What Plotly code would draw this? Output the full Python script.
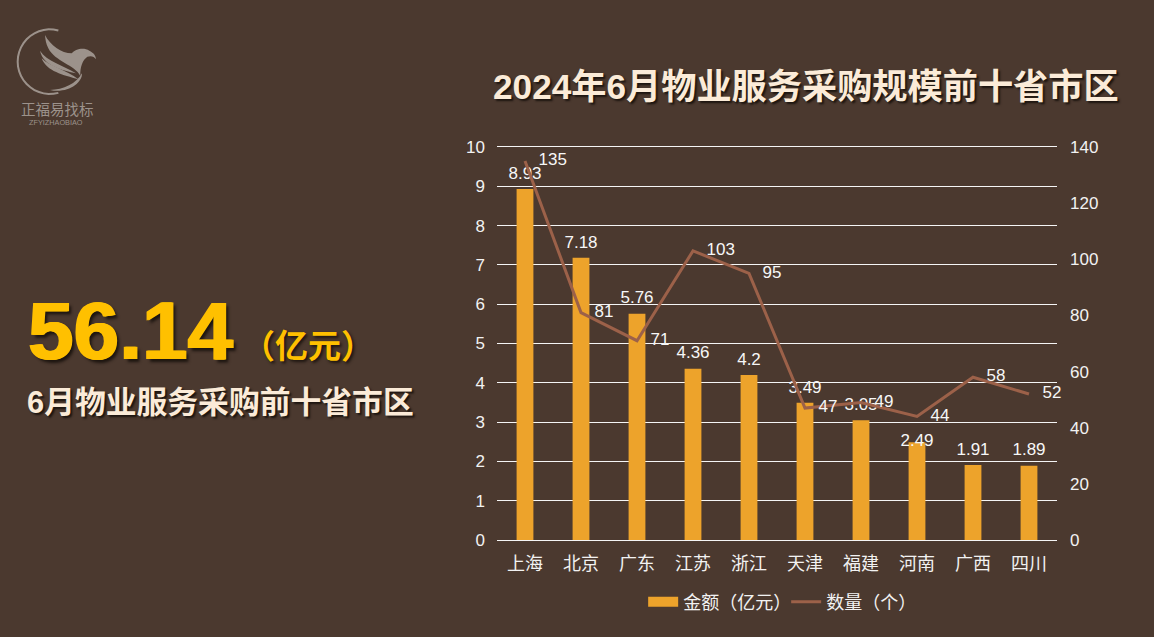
import math
import plotly.graph_objects as go

categories = ["上海", "北京", "广东", "江苏", "浙江", "天津", "福建", "河南", "广西", "四川"]
amount = [8.93, 7.18, 5.76, 4.36, 4.2, 3.49, 3.05, 2.49, 1.91, 1.89]
count = [135, 81, 71, 103, 95, 47, 49, 44, 58, 52]
amount_label_positions = ["top center"] * 7 + ["middle center"] + ["top center"] * 2
amount_name = "金额（亿元）"
count_name = "数量（个）"
title_text = "2024年6月物业服务采购规模前十省市区"
total_text = "56.14"
total_unit = "（亿元）"
sub_text = "6月物业服务采购前十省市区"

BG = "#4B392F"
FONT = "'Liberation Sans', 'Noto Sans CJK SC', sans-serif"
W, H = 1154, 637
L, R, T, B = 497, 1057, 147, 540
BAR = "#EDA32B"
LINE = "#9C6149"


def px(x):
    return (x - L) / (R - L)


def py(y):
    return (B - y) / (B - T)


def zoom_pt(zx, zy):
    return px(zx / 3), py(20 + zy / 3)


def logo_path(segments):
    out = []
    for cmd, pts in segments:
        coords = " ".join("%.5f,%.5f" % zoom_pt(*p) for p in pts)
        out.append(cmd + coords)
    return " ".join(out) + " Z"


def ring_path(cx, cy, r1, r2, a0, a1, n=24):
    pts_outer = [(cx + r1 * math.cos(math.radians(a0 + (a1 - a0) * i / n)),
                  cy + r1 * math.sin(math.radians(a0 + (a1 - a0) * i / n))) for i in range(n + 1)]
    pts_inner = [(cx + r2 * math.cos(math.radians(a0 + (a1 - a0) * i / n)),
                  cy + r2 * math.sin(math.radians(a0 + (a1 - a0) * i / n))) for i in range(n, -1, -1)]
    segs = [("M", [pts_outer[0]])] + [("L", [p]) for p in pts_outer[1:] + pts_inner]
    return logo_path(segs)


LOGO = "#9C928B"
logo_shapes = [
    ring_path(150, 125, 100, 94, -75, -285),
    logo_path([("M", [(135, 45)]), ("C", [(150, 75), (185, 100), (215, 100)]),
               ("C", [(225, 88), (250, 80), (268, 92)]), ("C", [(280, 98), (288, 106), (288, 118)]),
               ("C", [(282, 110), (275, 106), (262, 110)]),
               ("C", [(248, 120), (240, 140), (241, 168)]),
               ("C", [(225, 135), (165, 125), (145, 85)]), ("C", [(138, 72), (136, 58), (135, 45)])]),
    logo_path([("M", [(120, 92)]), ("C", [(140, 125), (190, 135), (228, 160)]),
               ("C", [(190, 150), (130, 140), (120, 92)])]),
    logo_path([("M", [(125, 115)]), ("C", [(150, 140), (200, 150), (235, 178)]),
               ("C", [(190, 165), (140, 155), (125, 115)])]),
    logo_path([("M", [(150, 210)]), ("C", [(190, 210), (230, 190), (246, 160)]),
               ("C", [(248, 190), (200, 222), (150, 210)])]),
]

fig = go.Figure()
# Legend swatch for the bars: a thick line gives the wide rectangle of the reference key.
fig.add_scatter(x=[None], y=[None], name=amount_name, mode="lines", legendgroup="amount",
                line=dict(color=BAR, width=13), hoverinfo="skip")
fig.add_bar(
    x=categories, y=amount, name=amount_name, yaxis="y", marker=dict(color=BAR, line=dict(width=0)),
    legendgroup="amount", showlegend=False, hoverinfo="x+y",
)
fig.add_scatter(
    x=categories, y=count, name=count_name, yaxis="y2", mode="lines",
    line=dict(color=LINE, width=3), cliponaxis=False,
)
fig.add_scatter(
    x=categories, y=amount, yaxis="y", mode="markers+text", showlegend=False, hoverinfo="skip",
    marker=dict(size=8, opacity=0),
    text=[str(v) for v in amount], textposition=amount_label_positions, cliponaxis=False,
    textfont=dict(size=17, color="#F7F7F7", family=FONT),
)
fig.add_scatter(
    x=categories, y=count, yaxis="y2", mode="markers+text", showlegend=False, hoverinfo="skip",
    marker=dict(size=20, opacity=0),
    text=[str(v) for v in count], textposition="middle right", cliponaxis=False,
    textfont=dict(size=17, color="#F7F7F7", family=FONT),
)

gold = "#FFC000"
annotations = [
    dict(text=title_text, x=px(806), y=py(87), font=dict(size=35.2, color="#FBEBD8", weight="bold", family=FONT,
         shadow="2px 2px 2px #1d1510")),
    dict(text=total_text, x=px(131), y=py(330), font=dict(size=82, color=gold, weight="bold", family=FONT,
         shadow="1px 0 0 %s, -1px 0 0 %s, 3px 3px 3px #1d1510" % (gold, gold))),
    dict(text=total_unit, x=px(308), y=py(346), font=dict(size=33, color=gold, weight="bold", family=FONT,
         shadow="2px 2px 3px #1d1510")),
    dict(text=sub_text, x=px(220), y=py(402), font=dict(size=30.8, color="#FBEBD8", weight="bold", family=FONT,
         shadow="2px 2px 2px #1d1510")),
    dict(text="正福易找标", x=px(57), y=py(110), font=dict(size=14.5, color=LOGO, family=FONT)),
    dict(text="ZFYIZHAOBIAO", x=px(56), y=py(123), font=dict(size=7.3, color=LOGO, family=FONT)),
]
for a in annotations:
    a.update(xref="paper", yref="paper", showarrow=False, xanchor="center", yanchor="middle")

fig.update_layout(
    width=W, height=H, margin=dict(l=L, r=W - R, t=T, b=H - B, pad=0, autoexpand=False),
    paper_bgcolor=BG, plot_bgcolor=BG, bargap=0.7, showlegend=True,
    font=dict(family=FONT, color="#F7F7F7", size=17),
    legend=dict(orientation="h", x=0.261, xanchor="left", y=-0.158, yanchor="middle",
                font=dict(size=18, color="#F2F2F2", family=FONT), bgcolor="rgba(0,0,0,0)",
                itemwidth=30, tracegroupgap=0, entrywidth=98, entrywidthmode="pixels"),
    xaxis=dict(type="category", range=[-0.5, 9.5], tickfont=dict(size=18, color="#F2F2F2"), showgrid=False, ticks="",
               showline=True, mirror=True, linecolor="#F5F5F5", linewidth=1, ticklabelstandoff=7),
    yaxis=dict(range=[0, 10], dtick=1, showgrid=True, gridcolor="#F5F5F5", gridwidth=1, zeroline=False,
               tickfont=dict(size=17, color="#F2F2F2"), ticks="", ticklabelstandoff=11),
    yaxis2=dict(range=[0, 140], dtick=20, overlaying="y", side="right", showgrid=False, zeroline=False,
                tickfont=dict(size=17, color="#F2F2F2"), ticks="", ticklabelstandoff=12),
    annotations=annotations,
    shapes=[dict(type="path", path=p, xref="paper", yref="paper", fillcolor=LOGO, line=dict(width=0))
            for p in logo_shapes],
)

fig.write_html("out.html", config={"displayModeBar": False},
               post_script="document.body.style.margin='0';document.body.style.background='%s';" % BG)
